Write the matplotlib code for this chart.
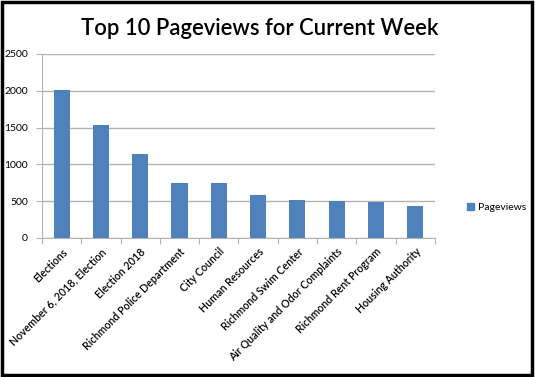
import matplotlib.pyplot as plt
from matplotlib.patches import Rectangle, Patch
import numpy as np

pages = ["Elections", "November 6, 2018, Election", "Election 2018",
         "Richmond Police Department", "City Council", "Human Resources",
         "Richmond Swim Center", "Air Quality and Odor Complaints",
         "Richmond Rent Program", "Housing Authority"]
pageviews = [2010, 1530, 1140, 750, 742, 578, 518, 495, 490, 436]
yticks = [0, 500, 1000, 1500, 2000, 2500]

BLUE = "#4f81bd"
GRID = "#b3b3b3"

plt.rcParams['font.family'] = ['Lato', 'DejaVu Sans']

fig = plt.figure(figsize=(5.35, 3.77), dpi=100)
ax = fig.add_axes([0.0785, 0.369, 0.7345, 0.488])

x = np.arange(len(pages))
ax.bar(x, pageviews, width=0.41, color=BLUE, zorder=3)

ax.set_xlim(-0.5, len(pages) - 0.5)
ax.set_ylim(0, 2500)
ax.set_yticks(yticks)
ax.set_yticklabels([str(v) for v in yticks], fontsize=7.5)
ax.yaxis.grid(True, color=GRID, linewidth=1)
ax.set_axisbelow(True)
ax.tick_params(axis='y', length=4, color=GRID, pad=6)

# ticks sit between categories, names at the centres
ax.set_xticks(np.arange(len(pages) + 1) - 0.5)
ax.set_xticklabels([])
ax.set_xticks(x, minor=True)
ax.set_xticklabels(pages, minor=True, rotation=45, ha='right',
                   rotation_mode='anchor', fontsize=7.7, fontweight='semibold')
ax.tick_params(axis='x', which='major', length=4, color=GRID)
ax.tick_params(axis='x', which='minor', length=0, pad=6)

for side in ['top', 'right']:
    ax.spines[side].set_visible(False)
for side in ['left', 'bottom']:
    ax.spines[side].set_color(GRID)

fig.text(0.486, 0.925, "Top 10 Pageviews for Current Week", ha='center',
         va='center', fontsize=15.8, fontweight='semibold')

fig.legend(handles=[Patch(color=BLUE, label="Pageviews")],
           loc='center left', bbox_to_anchor=(0.855, 0.45), frameon=False,
           fontsize=7.5, handlelength=0.7, handleheight=0.7, handletextpad=0.4)

fig.patches.append(Rectangle((0.003, 0.004), 0.991, 0.991, transform=fig.transFigure,
                             fill=False, edgecolor='black', linewidth=2.5))

fig.savefig("out.png", dpi=100)
